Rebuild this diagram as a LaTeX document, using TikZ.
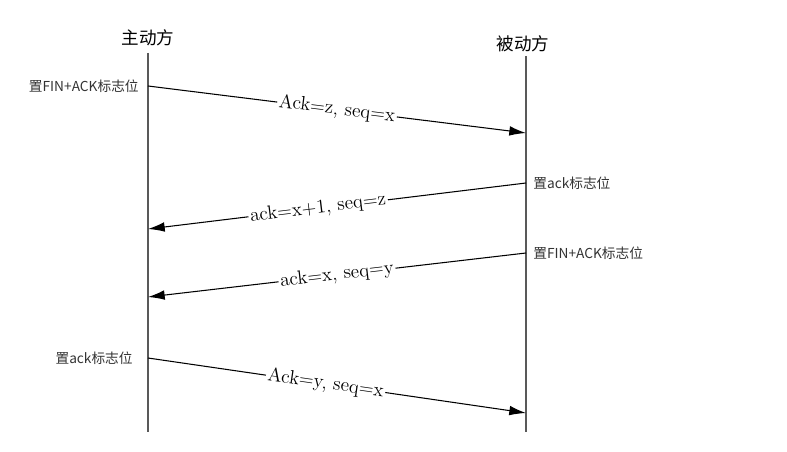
\documentclass[tikz,border=0pt]{standalone}
\usepackage{fontspec}
\newfontfamily\cjk{Noto Sans CJK SC}
\usepackage{tikz}
\usetikzlibrary{arrows.meta}
\usetikzlibrary{positioning}
\pgfdeclarelayer{edgelayer}
\pgfdeclarelayer{nodelayer}
\pgfsetlayers{edgelayer,nodelayer,main}
\tikzstyle{none}=[inner sep=0mm]
\tikzstyle{party}=[inner sep=0mm,font={\cjk\fontsize{10}{12}\selectfont}]
\tikzstyle{flag}=[inner sep=0mm,text=black!80,font={\cjk\fontsize{7.8}{9}\selectfont}]
\tikzstyle{lifeline}=[draw=black!65,line width=0.8pt]
\tikzstyle{msg}=[-{Latex[length=9.5pt,width=5.5pt]},line width=0.6pt]
\tikzstyle{msglabel}=[fill=white,inner sep=1pt,sloped,font={\fontsize{11}{12}\selectfont}]

\begin{document}
\begin{tikzpicture}[x=0.02cm,y=-0.02cm]
	\useasboundingbox (0,0) rectangle (787,452);
	\begin{pgfonlayer}{nodelayer}
		\node [style=party] (a) at (148, 38) {主动方};
		\node [style=party] (b) at (523, 44) {被动方};
		\node [style=none] (a top) at (148, 53) {};
		\node [style=none] (a bot) at (148, 432) {};
		\node [style=none] (b top) at (526, 56) {};
		\node [style=none] (b bot) at (526, 432) {};
		\node [style=none] (m1a) at (148, 86) {};
		\node [style=none] (m1b) at (526, 133) {};
		\node [style=none] (m2b) at (526, 183) {};
		\node [style=none] (m2a) at (148, 229) {};
		\node [style=none] (m3b) at (526, 253) {};
		\node [style=none] (m3a) at (148, 297) {};
		\node [style=none] (m4a) at (148, 358) {};
		\node [style=none] (m4b) at (526, 413) {};
		\node [style=flag, anchor=east] (f1) at (139, 86) {置FIN+ACK标志位};
		\node [style=flag, anchor=west] (f2) at (533, 183) {置ack标志位};
		\node [style=flag, anchor=west] (f3) at (533, 253) {置FIN+ACK标志位};
		\node [style=flag, anchor=east] (f4) at (133, 358) {置ack标志位};
	\end{pgfonlayer}
	\begin{pgfonlayer}{edgelayer}
		\draw [style=lifeline] (a top.center) to (a bot.center);
		\draw [style=lifeline] (b top.center) to (b bot.center);
		\draw [style=msg] (m1a.center) to node [style=msglabel] {Ack=z, seq=x} (m1b.center);
		\draw [style=msg] (m2b.center) to node [style=msglabel, pos=0.55] {ack=x+1, seq=z} (m2a.center);
		\draw [style=msg] (m3b.center) to node [style=msglabel] {ack=x, seq=y} (m3a.center);
		\draw [style=msg] (m4a.center) to node [style=msglabel, pos=0.47] {Ack=y, seq=x} (m4b.center);
	\end{pgfonlayer}
\end{tikzpicture}
\end{document}
